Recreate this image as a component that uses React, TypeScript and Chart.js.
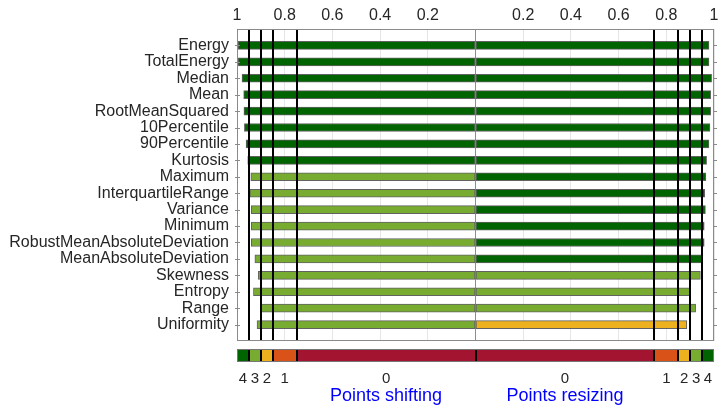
import React, { useEffect, useRef } from 'react';
import { Chart, registerables } from 'chart.js';

Chart.register(...registerables);

const features = [
  'Energy', 'TotalEnergy', 'Median', 'Mean', 'RootMeanSquared', '10Percentile',
  '90Percentile', 'Kurtosis', 'Maximum', 'InterquartileRange', 'Variance', 'Minimum',
  'RobustMeanAbsoluteDeviation', 'MeanAbsoluteDeviation', 'Skewness', 'Entropy',
  'Range', 'Uniformity',
];
const shiftingScores = [
  0.995, 0.995, 0.979, 0.972, 0.971, 0.969, 0.962, 0.955, 0.942, 0.946, 0.940,
  0.940, 0.940, 0.925, 0.911, 0.931, 0.901, 0.916,
];
const resizingScores = [
  0.979, 0.979, 0.990, 0.986, 0.986, 0.983, 0.979, 0.969, 0.966, 0.961, 0.964,
  0.959, 0.959, 0.952, 0.943, 0.901, 0.923, 0.886,
];
const thresholds = [0.75, 0.85, 0.9, 0.95];
const bandColors = ['#A2142F', '#D95319', '#EDB120', '#77AC30', '#006400'];
const bandLabels = ['0', '1', '2', '3', '4'];
const sideTitles = ['Points shifting', 'Points resizing'];

const FONT = "'Liberation Sans', Arial, sans-serif";
const TEXT = '#262626';

function colorFor(v: number): string {
  let i = 0;
  thresholds.forEach((t) => { if (v >= t) i++; });
  return bandColors[i];
}

const overlay = {
  id: 'overlay',
  afterDatasetsDraw(chart: any) {
    const { ctx, chartArea, scales } = chart;
    const x = scales.x;
    const y = scales.y;
    const { left, right, top, bottom } = chartArea;
    ctx.save();
    // threshold lines
    ctx.strokeStyle = '#000';
    ctx.lineWidth = 2;
    thresholds.forEach((t) => {
      [-t, t].forEach((v) => {
        const px = Math.round(x.getPixelForValue(v));
        ctx.beginPath();
        ctx.moveTo(px, top);
        ctx.lineTo(px, bottom);
        ctx.stroke();
      });
    });
    // box
    ctx.strokeStyle = '#8a8a8a';
    ctx.lineWidth = 1;
    ctx.strokeRect(left + 0.5, top + 0.5, right - left - 1, bottom - top - 1);
    // row ticks
    for (let i = 1; i <= features.length; i++) {
      const py = Math.round(y.getPixelForValue(i)) + 0.5;
      ctx.beginPath();
      ctx.moveTo(left - 2, py);
      ctx.lineTo(left + 3, py);
      ctx.moveTo(right - 1, py);
      ctx.lineTo(right + 3, py);
      ctx.stroke();
    }
    // color bar
    const barTop = bottom + 8;
    const barH = 13;
    const edges = [0, ...thresholds, 1];
    [-1, 1].forEach((side, si) => {
      for (let i = 0; i < bandColors.length; i++) {
        const a = x.getPixelForValue(side * edges[i]);
        const b = x.getPixelForValue(side * edges[i + 1]);
        ctx.fillStyle = bandColors[i];
        ctx.fillRect(Math.min(a, b), barTop, Math.abs(b - a), barH);
        ctx.fillStyle = TEXT;
        ctx.font = `15px ${FONT}`;
        ctx.textAlign = 'center';
        ctx.textBaseline = 'middle';
        ctx.fillText(bandLabels[i], (a + b) / 2, bottom + 38);
        if (i === 0) {
          ctx.fillStyle = '#0000FF';
          ctx.font = `18px ${FONT}`;
          ctx.fillText(sideTitles[si], (a + b) / 2, bottom + 55);
        }
      }
    });
    ctx.strokeStyle = '#000';
    ctx.lineWidth = 2;
    [0, ...thresholds].forEach((t) => {
      [-t, t].forEach((v) => {
        const px = Math.round(x.getPixelForValue(v));
        ctx.beginPath();
        ctx.moveTo(px, barTop);
        ctx.lineTo(px, barTop + barH);
        ctx.stroke();
      });
    });
    ctx.strokeStyle = '#777';
    ctx.lineWidth = 1;
    ctx.strokeRect(left + 0.5, barTop + 0.5, right - left - 1, barH - 1);
    ctx.restore();
  },
};

export default function App() {
  const ref = useRef<HTMLCanvasElement>(null);
  useEffect(() => {
    document.body.style.margin = '0';
    const labels = ['', ...features, ''];
    const chart = new Chart(ref.current as HTMLCanvasElement, {
      type: 'bar',
      data: {
        labels,
        datasets: [
          {
            label: 'Points shifting',
            data: [null, ...shiftingScores.map((v) => -v), null],
            backgroundColor: [null, ...shiftingScores.map(colorFor), null] as any,
            borderColor: 'rgba(70,70,70,0.85)',
            borderWidth: 1,
            borderSkipped: false,
            barThickness: 8,
            grouped: false,
          } as any,
          {
            label: 'Points resizing',
            data: [null, ...resizingScores, null],
            backgroundColor: [null, ...resizingScores.map(colorFor), null] as any,
            borderColor: 'rgba(70,70,70,0.85)',
            borderWidth: 1,
            borderSkipped: false,
            barThickness: 8,
            grouped: false,
          } as any,
        ],
      },
      options: {
        indexAxis: 'y',
        responsive: false,
        animation: false,
        layout: { padding: { left: 0, right: 13, top: 0, bottom: 72 } },
        plugins: { legend: { display: false }, tooltip: { enabled: false } },
        scales: {
          x: {
            type: 'linear',
            position: 'top',
            min: -1,
            max: 1,
            border: { display: false },
            grid: {
              drawTicks: false,
              color: (c: any) => (Math.abs(c.tick.value) < 1e-9 ? '#8c8c8c' : '#e6e6e6'),
            },
            ticks: {
              stepSize: 0.2,
              padding: 4,
              color: TEXT,
              font: { family: FONT, size: 16 },
              callback: (v: any) => {
                const a = Math.abs(Number(v));
                if (a < 1e-9) return '';
                return String(parseFloat(a.toFixed(1)));
              },
            },
            afterFit: (s: any) => { s.height = 29; },
          },
          y: {
            type: 'category',
            offset: false,
            border: { display: false },
            grid: { display: false },
            ticks: {
              autoSkip: false,
              padding: 0,
              color: TEXT,
              font: { family: FONT, size: 16 },
            },
            afterFit: (s: any) => { s.width = 237; },
          },
        },
      } as any,
      plugins: [overlay],
    });
    return () => chart.destroy();
  }, []);
  return (
    <div style={{ position: 'absolute', left: 0, top: 0, width: 727, height: 413 }}>
      <canvas ref={ref} width={727} height={413} style={{ display: 'block' }} />
    </div>
  );
}
